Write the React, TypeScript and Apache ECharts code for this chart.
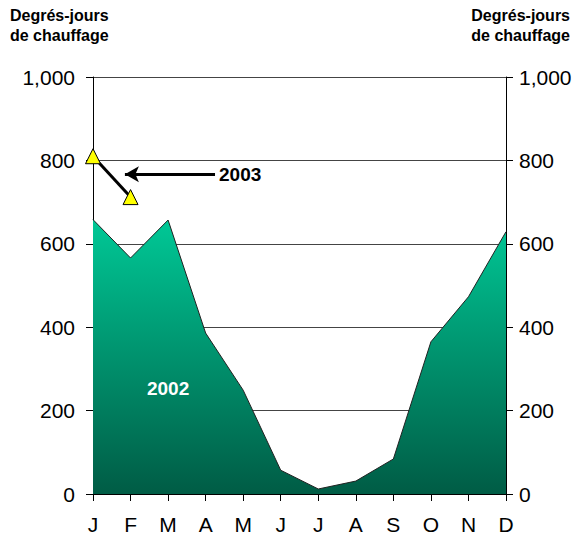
import React, { useEffect, useRef } from "react";
import * as echarts from "echarts";

const months = ["J", "F", "M", "A", "M", "J", "J", "A", "S", "O", "N", "D"];
const values2002 = [658, 566, 657, 386, 249, 57, 12, 31, 84, 365, 473, 629];
const values2003 = [810, 712];
const yTicks = [0, 200, 400, 600, 800, 1000];
const axisTitle = "Degrés-jours\nde chauffage";
// annotation anchors in data space (x as month index, y in degree-days)
const arrowFrom = [3.25, 767];
const arrowTo = [0.85, 767];
const label2003 = [3.92, 767];
const label2002 = [2, 254];

export default function App() {
  const ref = useRef<HTMLDivElement>(null);
  useEffect(() => {
    const chart = echarts.init(ref.current!, null, { renderer: "svg" });
    const font = "'Liberation Sans', Arial, sans-serif";
    const yAxisCommon = {
      type: "value",
      min: yTicks[0],
      max: yTicks[yTicks.length - 1],
      interval: 200,
      axisLine: { show: true, lineStyle: { color: "#000", width: 1 } },
      axisTick: { show: true, inside: false, length: 7, lineStyle: { color: "#000" } },
    };
    const labelCommon = {
      color: "#000",
      fontSize: 21,
      fontFamily: font,
      formatter: (v: number) => v.toLocaleString("en-US"),
    };
    const titleStyle = {
      fontSize: 16,
      fontWeight: "bold",
      color: "#000",
      fontFamily: font,
      lineHeight: 20,
    };
    chart.setOption({
      animation: false,
      title: [
        { text: axisTitle, left: 10, top: 5, padding: 0, textStyle: titleStyle },
        { text: axisTitle, right: 10, top: 5, padding: 0, textStyle: { ...titleStyle, align: "right" } },
      ],
      grid: { left: 93, right: 74, top: 77, bottom: 44, containLabel: false },
      xAxis: [
        {
          type: "category",
          data: months,
          boundaryGap: false,
          axisLine: { show: true, lineStyle: { color: "#000" } },
          axisTick: { show: true, length: 7, lineStyle: { color: "#000" } },
          axisLabel: { color: "#000", fontSize: 21, fontFamily: font, margin: 20 },
          splitLine: { show: false },
        },
        { type: "value", min: 0, max: 11, show: false },
      ],
      yAxis: [
        {
          ...yAxisCommon,
          position: "left",
          axisLabel: { ...labelCommon, margin: 18 },
          splitLine: { show: true, lineStyle: { color: "#444", width: 1 } },
        },
        {
          ...yAxisCommon,
          position: "right",
          axisLabel: { ...labelCommon, margin: 13 },
          splitLine: { show: false },
        },
      ],
      series: [
        {
          type: "line",
          data: values2002,
          symbol: "none",
          lineStyle: { color: "#222", width: 1 },
          areaStyle: {
            opacity: 1,
            color: new echarts.graphic.LinearGradient(0, 0, 0, 1, [
              { offset: 0, color: "#00C896" },
              { offset: 1, color: "#005C45" },
            ]),
          },
          z: 2,
        },
        {
          type: "line",
          data: values2003,
          symbol: "triangle",
          symbolSize: 15,
          itemStyle: { color: "#FFFF00", borderColor: "#000", borderWidth: 1 },
          lineStyle: { color: "#000", width: 3 },
          z: 5,
        },
        {
          type: "scatter",
          xAxisIndex: 1,
          data: [arrowFrom],
          symbolSize: 0,
          silent: true,
          itemStyle: { opacity: 1 },
          markLine: {
            silent: true,
            symbol: ["none", "arrow"],
            symbolSize: [12, 14],
            label: { show: false },
            lineStyle: { color: "#000", width: 3, type: "solid", opacity: 1 },
            data: [[{ coord: arrowFrom }, { coord: arrowTo }]],
          },
        },
        {
          type: "scatter",
          xAxisIndex: 1,
          data: [label2003],
          symbolSize: 0,
          silent: true,
          itemStyle: { opacity: 1 },
          label: {
            show: true,
            position: "inside",
            formatter: "2003",
            color: "#000",
            fontSize: 19,
            fontWeight: "bold",
            fontFamily: font,
          },
          z: 6,
        },
        {
          type: "scatter",
          xAxisIndex: 1,
          data: [label2002],
          symbolSize: 0,
          silent: true,
          itemStyle: { opacity: 1 },
          label: {
            show: true,
            position: "inside",
            formatter: "2002",
            color: "#fff",
            fontSize: 19,
            fontWeight: "bold",
            fontFamily: font,
          },
          z: 6,
        },
      ],
    });
    return () => chart.dispose();
  }, []);
  return <div ref={ref} style={{ width: 580, height: 538, position: "absolute", left: 0, top: 0 }} />;
}
